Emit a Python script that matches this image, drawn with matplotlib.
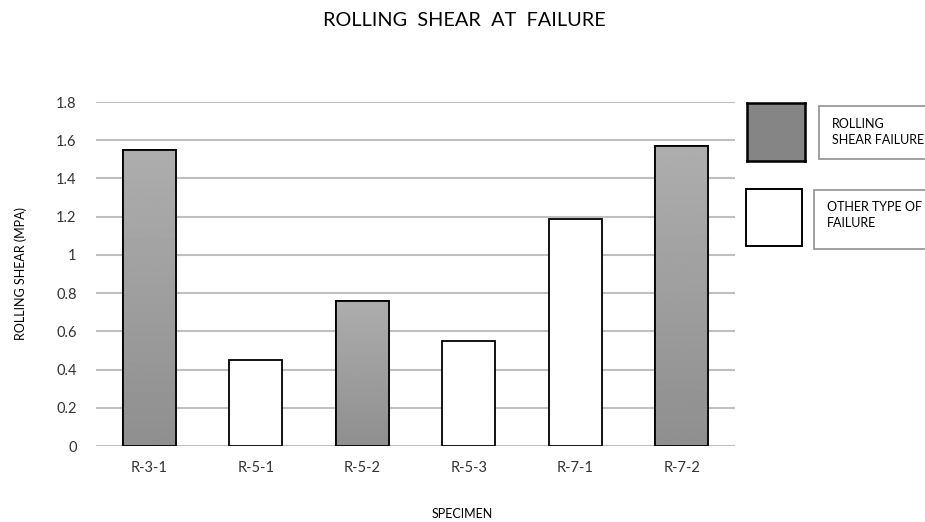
import numpy as np
import matplotlib
matplotlib.use("Agg")
import matplotlib.pyplot as plt
from matplotlib.patches import Rectangle

plt.rcParams['font.family'] = ['Lato', 'DejaVu Sans']

specimens = ["R-3-1", "R-5-1", "R-5-2", "R-5-3", "R-7-1", "R-7-2"]
shear_mpa = [1.55, 0.45, 0.76, 0.55, 1.19, 1.57]
rolling_failure = [True, False, True, False, False, True]
y_ticks = [0, 0.2, 0.4, 0.6, 0.8, 1, 1.2, 1.4, 1.6, 1.8]
y_tick_labels = ["0", "0.2", "0.4", "0.6", "0.8", "1", "1.2", "1.4", "1.6", "1.8"]
legend_labels = ["ROLLING\nSHEAR FAILURE", "OTHER TYPE OF\nFAILURE"]

TEXT = "#333333"
GRID = "#BFBFBF"

# vertical grey gradient (light at top, darker at bottom)
grad = np.linspace(0.68, 0.56, 256).reshape(-1, 1)

fig = plt.figure(figsize=(9.25, 5.22), dpi=100)
ax = fig.add_axes([96 / 925, 1 - 446 / 522, (735 - 96) / 925, (446 - 102) / 522])

x = np.arange(len(specimens))
bars = ax.bar(x, shear_mpa, width=0.5, facecolor="white", edgecolor="black",
              linewidth=1.3, zorder=3)
for bar, rolled in zip(bars, rolling_failure):
    if rolled:
        bx, by = bar.get_x(), bar.get_y()
        bw, bh = bar.get_width(), bar.get_height()
        im = ax.imshow(grad, cmap="gray", vmin=0, vmax=1, aspect="auto",
                       extent=(bx, bx + bw, by, by + bh), zorder=3.5,
                       interpolation="bilinear")
        im.set_clip_path(bar)
        edge = Rectangle((bx, by), bw, bh, facecolor="none", edgecolor="black",
                         linewidth=1.3, zorder=4)
        ax.add_patch(edge)

ax.set_xlim(-0.5, len(specimens) - 0.5)
ax.set_ylim(0, 1.8)
ax.set_yticks(y_ticks)
ax.set_yticklabels(y_tick_labels)
ax.set_xticks(x)
ax.set_xticklabels(specimens)
ax.tick_params(axis="both", length=0, labelsize=10.5, colors=TEXT)
ax.tick_params(axis="y", pad=14)
ax.tick_params(axis="x", pad=11)
ax.grid(axis="y", color=GRID, linewidth=1.5, zorder=0)
ax.set_axisbelow(True)
for s in ax.spines.values():
    s.set_visible(False)

ax.set_ylabel("ROLLING SHEAR (MPA)", fontsize=9, color="black")
ax.yaxis.set_label_coords(-0.108, 0.5)
fig.text(462 / 925, 1 - 514 / 522, "SPECIMEN", ha="center", va="center",
         fontsize=9, color="black")
fig.text(464 / 925, 1 - 21 / 522, "ROLLING  SHEAR  AT  FAILURE", ha="center",
         va="center", fontsize=14.3, color="black")

# legend drawn as separate swatches and framed labels
W, H = 925, 522

def fig_rect(x0, y0, x1, y1, **kw):
    return Rectangle((x0 / W, 1 - y1 / H), (x1 - x0) / W, (y1 - y0) / H,
                     transform=fig.transFigure, **kw)

# swatch 1: solid grey
sw_ax = fig.add_axes([747 / W, 1 - 161 / H, 58 / W, 58 / H])
sw_ax.imshow(np.full((2, 2), 0.52), cmap="gray", vmin=0, vmax=1, aspect="auto")
sw_ax.set_xticks([])
sw_ax.set_yticks([])
for s in sw_ax.spines.values():
    s.set_linewidth(1.8)
    s.set_color("black")

fig.patches.append(fig_rect(819, 106, 930, 159, facecolor="white",
                            edgecolor="#909090", linewidth=1.2))
fig.text(832 / W, 1 - 132 / H, legend_labels[0], ha="left", va="center",
         fontsize=9, color="black", linespacing=1.3)

fig.patches.append(fig_rect(746, 189, 802, 246, facecolor="white",
                            edgecolor="black", linewidth=1.4))
fig.patches.append(fig_rect(814, 190, 930, 249, facecolor="white",
                            edgecolor="#909090", linewidth=1.2))
fig.text(827 / W, 1 - 215 / H, legend_labels[1], ha="left", va="center",
         fontsize=9, color="black", linespacing=1.35)

fig.savefig("out.png", dpi=100)
